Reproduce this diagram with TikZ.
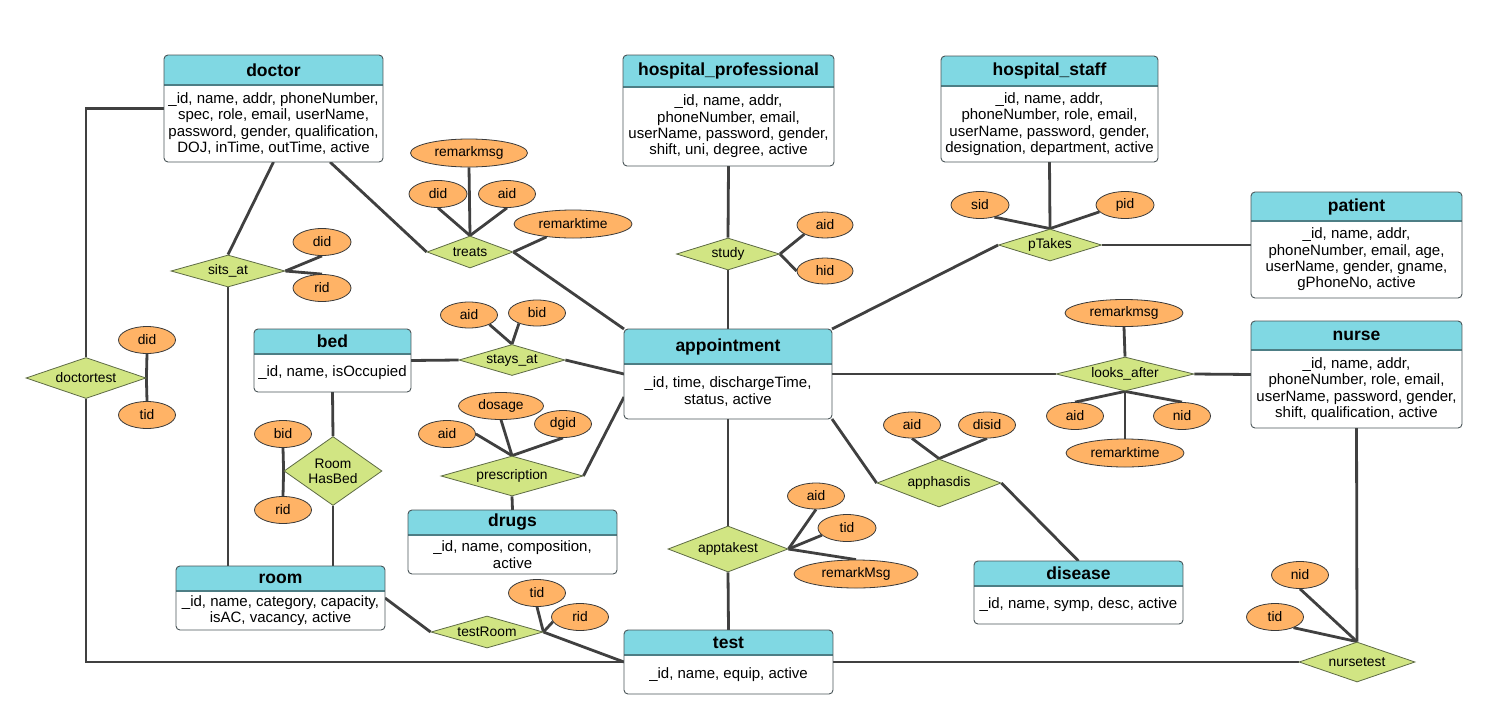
\documentclass[tikz,border=0pt]{standalone}
\usepackage{fontspec}
\setmainfont{Liberation Sans}
\usetikzlibrary{shapes.geometric}
\definecolor{hdr}{HTML}{80D8E3}
\definecolor{relfill}{HTML}{D1E583}
\definecolor{reldraw}{HTML}{5E6B45}
\definecolor{attrfill}{HTML}{FFB366}
\definecolor{attrdraw}{HTML}{3A3A3A}
\definecolor{conn}{HTML}{404040}
\definecolor{entdraw}{HTML}{4A5558}
\definecolor{sepcol}{HTML}{4D7E85}
\pgfdeclarelayer{bg}
\pgfsetlayers{bg,main}
\tikzset{
  entbox/.style={rectangle, draw=entdraw, line width=0.9pt, rounded corners=4pt, inner sep=0pt, outer sep=0pt},
  titletext/.style={font=\bfseries\fontsize{17.5}{20}\selectfont, inner sep=0pt},
  attrtext/.style={font=\fontsize{15}{16.3}\selectfont, align=center, inner sep=0pt},
  sepline/.style={draw=sepcol, line width=1.3pt},
  rel/.style={diamond, draw=reldraw, fill=relfill, line width=0.8pt, inner sep=0pt, font=\fontsize{13.8}{15}\selectfont, align=center},
  attr/.style={ellipse, draw=attrdraw, fill=attrfill, line width=0.8pt, inner sep=0pt, font=\fontsize{13.8}{15}\selectfont},
  link/.style={draw=conn, line width=2.8pt},
}
\newcommand\erent[8]{%
  \pgfmathsetmacro\ecx{(#2+#4)/2}%
  \pgfmathsetmacro\ecy{(#3+#5)/2}%
  \pgfmathsetmacro\ew{#4-#2}%
  \pgfmathsetmacro\eh{#5-#3}%
  \pgfmathsetmacro\ety{(#3+#6)/2}%
  \pgfmathsetmacro\eay{(#6+#5)/2}%
  \begin{scope}
    \clip[rounded corners=4pt] (#2,#3) rectangle (#4,#5);
    \fill[white] (#2,#3) rectangle (#4,#5);
    \fill[hdr] (#2,#3) rectangle (#4,#6);
  \end{scope}
  \draw[sepline] (#2,#6) -- (#4,#6);
  \node[entbox, minimum width=\ew pt, minimum height=\eh pt] (#1) at (\ecx,\ecy) {};
  \node[titletext] (#1-t) at (\ecx,\ety) {#7};
  \node[attrtext] (#1-a) at (\ecx,\eay) {#8};
}
\begin{document}
\begin{tikzpicture}[x=1pt,y=-1pt]
\useasboundingbox (0,0) rectangle (1495,715);
\begin{pgfonlayer}{bg}
\fill[white] (0,0) rectangle (1495,715);
\end{pgfonlayer}

% entities
\erent{doctor}{164}{55}{383}{162}{85}{doctor}{\_id, name, addr, phoneNumber,\\ spec, role, email, userName,\\ password, gender, qualification,\\ DOJ, inTime, outTime, active}
\erent{hosprof}{623}{55}{834}{166}{87}{hospital\_professional}{\_id, name, addr,\\ phoneNumber, email,\\ userName, password, gender,\\ shift, uni, degree, active}
\erent{hosstaff}{941}{56}{1158}{162}{86}{hospital\_staff}{\_id, name, addr,\\ phoneNumber, role, email,\\ userName, password, gender,\\ designation, department, active}
\erent{patient}{1251}{192}{1462}{298}{221}{patient}{\_id, name, addr,\\ phoneNumber, email, age,\\ userName, gender, gname,\\ gPhoneNo, active}
\erent{nurse}{1251}{321}{1462}{428}{350}{nurse}{\_id, name, addr,\\ phoneNumber, role, email,\\ userName, password, gender,\\ shift, qualification, active}
\erent{appointment}{624}{329}{832}{419}{364}{appointment}{\_id, time, dischargeTime,\\ status, active}
\erent{bed}{254}{329}{411}{392}{354}{bed}{\_id, name, isOccupied}
\erent{room}{176}{566}{385}{630}{591}{room}{\_id, name, category, capacity,\\ isAC, vacancy, active}
\erent{drugs}{408}{510}{617}{574}{535}{drugs}{\_id, name, composition,\\ active}
\erent{test}{624}{630}{833}{694}{655}{test}{\_id, name, equip, active}
\erent{disease}{974}{561}{1183}{624}{586}{disease}{\_id, name, symp, desc, active}

% relationships
\node[rel, minimum width=114pt, minimum height=32pt, aspect=3.56] (sitsat) at (228,271) {sits\_at};
\node[rel, minimum width=86pt, minimum height=32pt, aspect=2.69] (treats) at (470,252) {treats};
\node[rel, minimum width=103pt, minimum height=32pt, aspect=3.22] (study) at (728,254) {study};
\node[rel, minimum width=103pt, minimum height=32pt, aspect=3.22] (ptakes) at (1050,245) {pTakes};
\node[rel, minimum width=120pt, minimum height=41pt, aspect=2.93] (doctortest) at (86,378) {doctortest};
\node[rel, minimum width=106pt, minimum height=31pt, aspect=3.42] (staysat) at (512,360) {stays\_at};
\node[rel, minimum width=142pt, minimum height=40pt, aspect=3.55] (prescription) at (512,476) {prescription};
\node[rel, minimum width=98pt, minimum height=69pt, aspect=1.42] (roomhasbed) at (333,471) {Room\\HasBed};
\node[rel, minimum width=112pt, minimum height=32pt, aspect=3.5] (testroom) at (487,632) {testRoom};
\node[rel, minimum width=120pt, minimum height=46pt, aspect=2.6] (apptakest) at (728,549) {apptakest};
\node[rel, minimum width=124pt, minimum height=48pt, aspect=2.58] (apphasdis) at (939,483) {apphasdis};
\node[rel, minimum width=138pt, minimum height=34pt, aspect=4.06] (looksafter) at (1125,374) {looks\_after};
\node[rel, minimum width=116pt, minimum height=40pt, aspect=2.9] (nursetest) at (1357,662) {nursetest};

% attributes
\node[attr, minimum width=117pt, minimum height=28pt] (tr-remarkmsg) at (469,153) {remarkmsg};
\node[attr, minimum width=58pt, minimum height=27pt] (tr-did) at (438,194) {did};
\node[attr, minimum width=57pt, minimum height=27pt] (tr-aid) at (507,194) {aid};
\node[attr, minimum width=118pt, minimum height=28pt] (tr-remarktime) at (573,224) {remarktime};
\node[attr, minimum width=58pt, minimum height=27pt] (sa-did) at (322,242) {did};
\node[attr, minimum width=58pt, minimum height=27pt] (sa-rid) at (322,288) {rid};
\node[attr, minimum width=56pt, minimum height=26pt] (st-aid) at (825,225) {aid};
\node[attr, minimum width=56pt, minimum height=26pt] (st-hid) at (825,271) {hid};
\node[attr, minimum width=58pt, minimum height=27pt] (pt-sid) at (980,205) {sid};
\node[attr, minimum width=58pt, minimum height=27pt] (pt-pid) at (1125,205) {pid};
\node[attr, minimum width=57pt, minimum height=27pt] (dt-did) at (147,340) {did};
\node[attr, minimum width=57pt, minimum height=27pt] (dt-tid) at (147,415) {tid};
\node[attr, minimum width=57pt, minimum height=26pt] (sy-aid) at (469,315) {aid};
\node[attr, minimum width=57pt, minimum height=26pt] (sy-bid) at (537,313) {bid};
\node[attr, minimum width=85pt, minimum height=27pt] (pr-dosage) at (501,406) {dosage};
\node[attr, minimum width=57pt, minimum height=27pt] (pr-aid) at (447,434) {aid};
\node[attr, minimum width=57pt, minimum height=27pt] (pr-dgid) at (563,424) {dgid};
\node[attr, minimum width=57pt, minimum height=27pt] (rb-bid) at (283,434) {bid};
\node[attr, minimum width=57pt, minimum height=27pt] (rb-rid) at (283,510) {rid};
\node[attr, minimum width=57pt, minimum height=27pt] (trm-tid) at (537,593) {tid};
\node[attr, minimum width=57pt, minimum height=27pt] (trm-rid) at (580,617) {rid};
\node[attr, minimum width=57pt, minimum height=26pt] (at-aid) at (816,496) {aid};
\node[attr, minimum width=58pt, minimum height=27pt] (at-tid) at (847,528) {tid};
\node[attr, minimum width=124pt, minimum height=28pt] (at-remarkmsg) at (856,574) {remarkMsg};
\node[attr, minimum width=57pt, minimum height=26pt] (ah-aid) at (912,425) {aid};
\node[attr, minimum width=57pt, minimum height=26pt] (ah-disid) at (987,425) {disid};
\node[attr, minimum width=118pt, minimum height=27pt] (la-remarkmsg) at (1124,313) {remarkmsg};
\node[attr, minimum width=57pt, minimum height=27pt] (la-aid) at (1075,416) {aid};
\node[attr, minimum width=57pt, minimum height=27pt] (la-nid) at (1182,416) {nid};
\node[attr, minimum width=118pt, minimum height=28pt] (la-remarktime) at (1125,453) {remarktime};
\node[attr, minimum width=57pt, minimum height=27pt] (nt-nid) at (1300,575) {nid};
\node[attr, minimum width=57pt, minimum height=27pt] (nt-tid) at (1275,617) {tid};

% connectors
\begin{pgfonlayer}{bg}
\path[link] (doctor.south) -- (sitsat.north);
\path[link] (sitsat.south) -- (sitsat.south |- room.north);
\path[link] (sitsat.east) -- (sa-did.south);
\path[link] (sitsat.east) -- (sa-rid.north);
\path[link] ([xshift=56.5pt]doctor.south) -- (treats.west);
\path[link] (treats.east) -- (appointment.north west);
\path[link] (treats.north) -- (tr-remarkmsg.south);
\path[link] (treats.north) -- (tr-did.south);
\path[link] (treats.north) -- (tr-aid.south);
\path[link] (treats.east) -- (tr-remarktime.206);
\path[link] (hosprof.south) -- (study.north);
\path[link] (study.south) -- (study.south |- appointment.north);
\path[link] (study.east) -- (st-aid.204);
\path[link] (study.east) -- (st-hid.west);
\path[link] (hosstaff.south) -- (ptakes.north);
\path[link] (ptakes.north) -- (pt-sid.320);
\path[link] (ptakes.north) -- (pt-pid.195);
\path[link] (ptakes.east) -- (ptakes.east -| patient.west);
\path[link] (ptakes.west) -- (appointment.north east);
\path[link] (doctor.west) -| (doctortest.north);
\path[link] (doctortest.south) |- (test.west);
\path[link] (doctortest.east) -- (dt-did.south);
\path[link] (doctortest.east) -- (dt-tid.north);
\path[link] (bed.east) -- (staysat.west);
\path[link] (staysat.east) -- (appointment.west);
\path[link] (staysat.north) -- (sy-aid.south east);
\path[link] (staysat.north) -- (sy-bid.210);
\path[link] (prescription.north) -- (pr-dosage.south);
\path[link] (prescription.north) -- (pr-aid.east);
\path[link] (prescription.north) -- (pr-dgid.south);
\path[link] (prescription.east) -- ([yshift=-23pt]appointment.west);
\path[link] (prescription.south) -- (drugs.north);
\path[link] (bed.south) -- (roomhasbed.north);
\path[link] (roomhasbed.south) -- (roomhasbed.south |- room.north);
\path[link] (roomhasbed.west) -- (rb-bid.south);
\path[link] (roomhasbed.west) -- (rb-rid.north);
\path[link] (room.east) -- (testroom.west);
\path[link] (testroom.east) -- (test.west);
\path[link] (testroom.east) -- (trm-tid.south);
\path[link] (testroom.east) -- (trm-rid.190);
\path[link] (appointment.south) -- (apptakest.north);
\path[link] (apptakest.south) -- (test.north);
\path[link] (apptakest.east) -- (at-aid.south);
\path[link] (apptakest.east) -- (at-tid.196);
\path[link] (apptakest.east) -- (at-remarkmsg.north);
\path[link] (appointment.east) -- (looksafter.west);
\path[link] (looksafter.east) -- (nurse.west);
\path[link] (looksafter.north) -- (la-remarkmsg.south);
\path[link] (looksafter.south) -- (la-remarktime.north);
\path[link] (looksafter.south) -- (la-aid.north);
\path[link] (looksafter.south) -- (la-nid.north);
\path[link] (appointment.south east) -- (apphasdis.west);
\path[link] (apphasdis.east) -- (disease.north);
\path[link] (apphasdis.north) -- (ah-aid.south);
\path[link] (apphasdis.north) -- (ah-disid.south);
\path[link] (test.east) -- (nursetest.west);
\path[link] (nurse.south) -- (nursetest.north);
\path[link] (nursetest.north) -- (nt-nid.south);
\path[link] (nursetest.north) -- (nt-tid.330);
\end{pgfonlayer}
\end{tikzpicture}
\end{document}
